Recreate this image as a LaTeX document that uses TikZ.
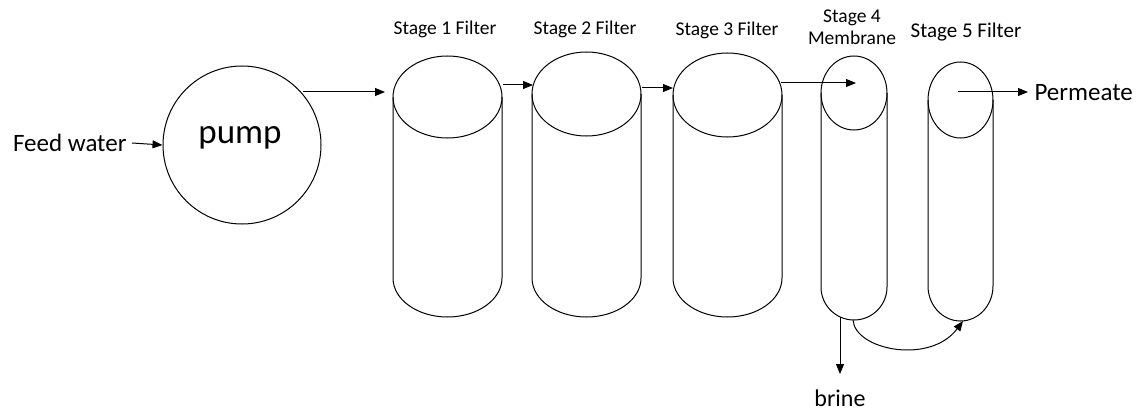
\documentclass[tikz,border=0pt]{standalone}
\usepackage{fontspec}
\setmainfont{Carlito}
\usetikzlibrary{arrows.meta}
\begin{document}
\begin{tikzpicture}[x=1pt,y=-1pt,
  line width=1pt,
  flow/.style={-{Triangle[length=10pt,width=8pt]}},
  lbl/.style={inner sep=0pt,align=center,font=\fontsize{19.5}{21}\selectfont},
  big/.style={inner sep=0pt,font=\fontsize{25}{27}\selectfont}]
\useasboundingbox (0,0) rectangle (1141,412);
% cylinder: #1 L, #2 R, #3 cy, #4 ry, #5 yb, #6 rb
\newcommand\mycyl[6]{%
  \pgfmathsetmacro\cxx{(#1+#2)/2}%
  \pgfmathsetmacro\rxx{(#2-#1)/2}%
  \pgfmathsetmacro\kx{0.5523*\rxx}%
  \pgfmathsetmacro\ky{0.5523*#6}%
  \draw (\cxx,#3) ellipse [x radius=\rxx, y radius=#4];
  \draw (#1,#3) -- (#1,#5) .. controls (#1,#5+\ky) and (\cxx-\kx,#5+#6) .. (\cxx,#5+#6)
        .. controls (\cxx+\kx,#5+#6) and (#2,#5+\ky) .. (#2,#5) -- (#2,#3);
}
% pump
\node (pump) [circle,draw,minimum size=158pt,inner sep=0pt] at (242,145) {};
\node [inner sep=0pt,font=\fontsize{35}{37}\selectfont] at (240,138) {pump};
\node (feed) [big,anchor=east] at (127,143) {Feed water};
% cylinders
\mycyl{393}{502}{97}{41}{278}{39}
\mycyl{532}{641}{94}{42}{278}{39}
\mycyl{673}{782}{95}{42}{278}{39}
\mycyl{821}{887}{93}{37}{287}{33}
\mycyl{928}{993}{100}{38}{286}{35}
% named points
\coordinate (p1) at (303,92);
\coordinate (s1in) at (385,92);
\coordinate (s1out) at (503,85);
\coordinate (s2in) at (533,85);
\coordinate (s2out) at (642,88);
\coordinate (s3in) at (673,88);
\coordinate (s3out) at (781,83);
\coordinate (s4in) at (856,83);
\coordinate (s4bot) at (840,317);
\coordinate (brineend) at (840,374);
\coordinate (s4out) at (853,320);
\coordinate (s5in) at (963,321);
\coordinate (s5c) at (958,92);
\coordinate (permend) at (1028,92);
% labels
\node [lbl] at (445,29) {Stage 1 Filter};
\node [lbl] at (585,29) {Stage 2 Filter};
\node [lbl] at (727,30) {Stage 3 Filter};
\node [lbl] at (852,18) {Stage 4};
\node [lbl] at (852,38) {Membrane};
\node [lbl,font=\fontsize{21}{23}\selectfont] at (966,32) {Stage 5 Filter};
\node (perm) [big,anchor=west] at (1034,93) {Permeate};
\node (brine) [inner sep=0pt,font=\fontsize{24}{26}\selectfont,anchor=base] at (840,406) {brine};
% arrows
\draw[flow] (feed.east) ++(5,0) -- (pump.west);
\draw[flow] (p1) -- (s1in);
\draw[flow] (s1out) -- (s2in);
\draw[flow] (s2out) -- (s3in);
\draw[flow] (s3out) -- (s4in);
\draw[flow] (s5c) -- (permend);
\draw[flow] (s4bot) -- (brineend);
\draw[flow] (s4out) .. controls (855,350) and (930,365) .. (s5in);
\end{tikzpicture}
\end{document}
